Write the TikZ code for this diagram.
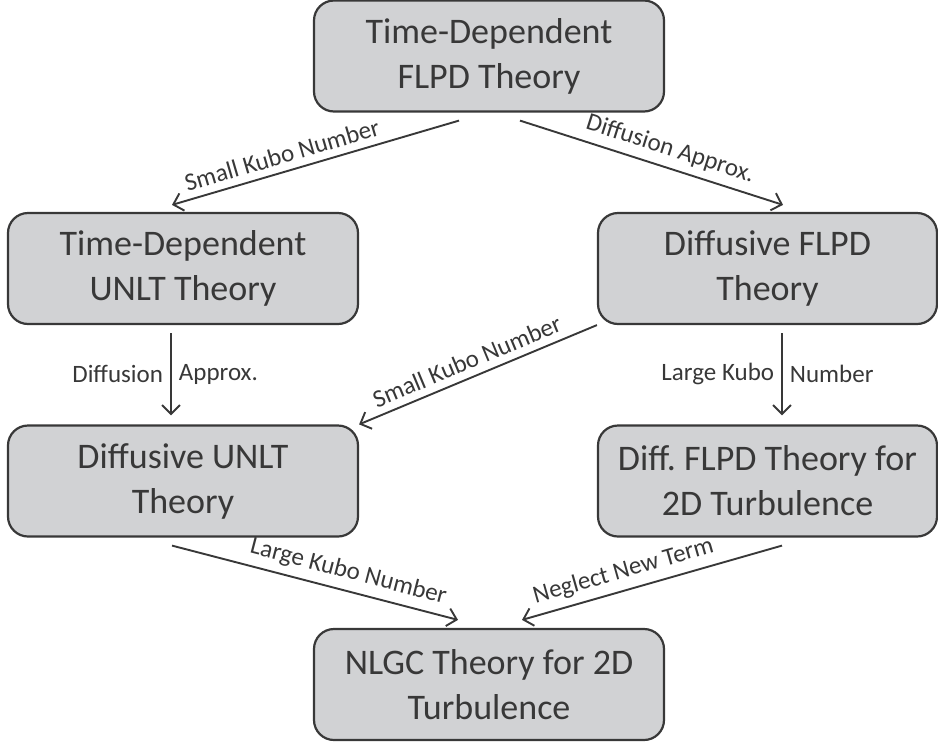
\documentclass[tikz,border=0pt]{standalone}
\usepackage{fontspec}
\setmainfont{Carlito}
\usetikzlibrary{arrows.meta}
\definecolor{boxfill}{HTML}{D1D2D4}
\definecolor{ink}{HTML}{383838}

\begin{document}
\begin{tikzpicture}[x=0.5pt, y=-0.5pt, >={Straight Barb[length=4.5pt,width=9pt]},
  theory/.style={draw=ink, fill=boxfill, line width=1.1pt, rounded corners=10pt,
    align=center, text=ink, font=\fontsize{18}{22.5}\selectfont,
    minimum width=175pt, minimum height=55.5pt, inner sep=0pt},
  link/.style={->, draw=ink, line width=0.95pt},
  tag/.style={font=\fontsize{12.5}{14}\selectfont, text=ink, inner sep=3.5pt}]
  \useasboundingbox (0,0) rectangle (938,745);

  \node[theory] (tdflpd) at (489,56) {Time-Dependent\\FLPD Theory};
  \node[theory] (tdunlt) at (183,268.5) {Time-Dependent\\UNLT Theory};
  \node[theory, minimum width=169.5pt] (dflpd) at (767.5,268.5) {Diffusive FLPD\\Theory};
  \node[theory] (dunlt) at (183,481) {Diffusive UNLT\\Theory};
  \node[theory, minimum width=169.5pt] (dflpd2d) at (767.5,481) {Diff.\ FLPD Theory for\\2D Turbulence};
  \node[theory] (nlgc) at (489,684.5) {NLGC Theory for 2D\\Turbulence};

  \draw[link] ([xshift=-15pt,yshift=-4pt]tdflpd.south) -- ([xshift=-5.5pt,yshift=3.5pt]tdunlt.north)
    node[tag, pos=0.6, sloped, above] {Small Kubo Number};
  \draw[link] ([xshift=15.5pt,yshift=-4pt]tdflpd.south) -- ([xshift=7.75pt,yshift=3.5pt]dflpd.north)
    node[tag, pos=0.55, sloped, above] {Diffusion Approx.};
  \draw[link] ([xshift=-6pt,yshift=-4pt]tdunlt.south) -- ([xshift=-6pt,yshift=4.5pt]dunlt.north)
    node[tag, midway, left] {Diffusion} node[tag, midway, right] {Approx.};
  \draw[link] (dflpd.south west) -- (dunlt.north east)
    node[tag, pos=0.52, sloped, above] {Small Kubo Number};
  \draw[link] ([xshift=7.25pt,yshift=-4pt]dflpd.south) -- ([xshift=7.25pt,yshift=4.5pt]dflpd2d.north)
    node[tag, midway, left] {Large Kubo} node[tag, midway, right] {Number};
  \draw[link] ([xshift=-5.5pt,yshift=-4pt]dunlt.south) -- ([xshift=-15.5pt,yshift=4pt]nlgc.north)
    node[tag, pos=0.6, sloped, above] {Large Kubo Number};
  \draw[link] ([xshift=7.25pt,yshift=-4pt]dflpd2d.south) -- ([xshift=16.5pt,yshift=4pt]nlgc.north)
    node[tag, pos=0.59, sloped, above] {Neglect New Term};
\end{tikzpicture}
\end{document}
